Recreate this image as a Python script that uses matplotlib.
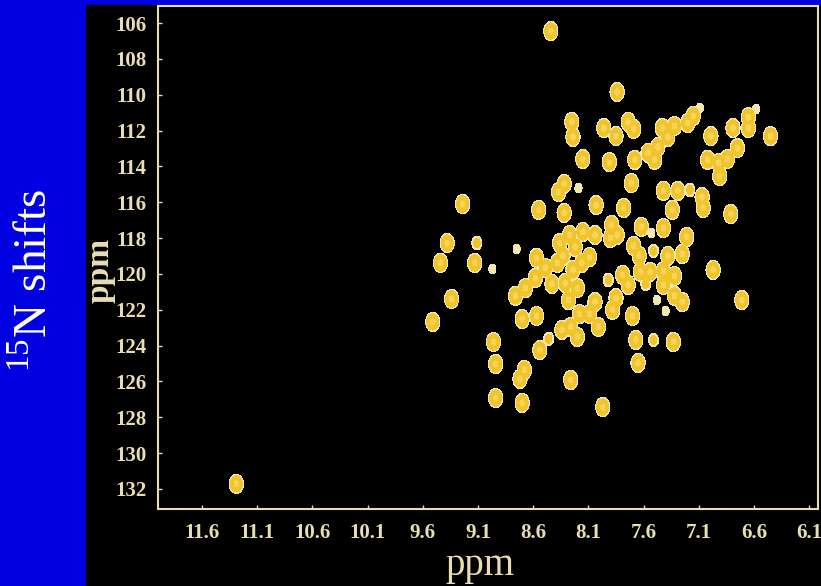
import numpy as np
import matplotlib.pyplot as plt
from matplotlib.patches import Rectangle

plt.rcParams['font.family'] = ['Liberation Serif', 'DejaVu Serif']
plt.rcParams['mathtext.fontset'] = 'custom'
plt.rcParams['mathtext.rm'] = 'Liberation Serif'

# HSQC cross peaks: 1H shift (ppm), 15N shift (ppm), relative height
h_shift = [8.44, 7.84, 8.25, 8.24, 7.96, 7.85, 7.74, 7.69, 7.43, 7.38,
           7.32, 7.20, 7.15, 7.09, 6.99, 6.79, 6.75, 6.65, 6.65, 6.58,
           6.45, 8.15, 7.91, 7.68, 7.56, 7.47, 7.50, 7.02, 6.92, 6.84,
           6.91, 8.32, 8.37, 8.19, 7.71, 7.42, 7.29, 7.18, 7.07, 7.06,
           9.24, 8.55, 8.32, 8.03, 7.78, 7.34, 6.81, 7.89, 7.84, 7.90,
           7.62, 7.42, 7.53, 7.21, 9.38, 9.11, 9.44, 9.13, 8.97, 8.75,
           8.57, 8.49, 8.58, 8.67, 8.76, 8.36, 8.27, 8.15, 8.04, 8.22,
           8.38, 8.33, 8.43, 8.31, 8.24, 8.16, 8.09, 8.20, 8.28, 8.04,
           8.18, 8.09, 7.85, 7.88, 8.01, 7.92, 7.69, 7.64, 7.79, 7.74,
           7.63, 7.54, 7.42, 7.58, 7.42, 7.51, 7.38, 7.25, 7.32, 7.32,
           7.25, 7.48, 7.40, 7.70, 6.97, 6.71, 9.34, 9.51, 8.70, 8.57,
           8.34, 8.26, 8.20, 8.46, 8.96, 8.54, 7.67, 7.51, 7.33, 8.94,
           8.68, 8.72, 7.65, 8.26, 8.94, 8.70, 7.97, 11.29]
n_shift = [106.45, 109.85, 111.52, 112.36, 111.86, 112.31, 111.52, 111.91, 111.86, 112.36,
           111.75, 111.58, 111.19, 110.74, 112.31, 111.86, 112.98, 111.25, 111.86, 110.80,
           112.31, 113.59, 113.76, 113.64, 113.25, 112.92, 113.64, 113.64, 113.81, 113.59,
           114.54, 114.98, 115.43, 115.21, 114.93, 115.37, 115.37, 115.32, 115.71, 116.32,
           116.10, 116.43, 116.60, 116.16, 116.32, 116.43, 116.66, 117.27, 117.83, 118.00,
           117.38, 117.44, 117.72, 117.94, 118.28, 118.28, 119.39, 119.39, 119.73, 118.61,
           119.11, 119.67, 120.23, 120.79, 121.23, 118.28, 117.83, 117.66, 117.83, 118.50,
           119.39, 119.00, 120.56, 120.51, 119.78, 119.39, 119.06, 120.79, 121.46, 121.57,
           122.24, 122.24, 121.35, 122.01, 122.96, 120.34, 118.44, 119.00, 120.06, 120.62,
           119.89, 119.89, 119.84, 120.56, 120.62, 118.72, 119.00, 118.89, 120.12, 121.23,
           121.57, 121.46, 122.07, 122.35, 119.78, 121.46, 121.40, 122.68, 122.52, 122.35,
           123.13, 122.96, 123.52, 123.63, 123.80, 124.25, 123.69, 123.69, 123.80, 125.03,
           125.36, 125.86, 124.97, 125.92, 126.93, 127.20, 127.43, 131.72]
height = [1.0] * len(h_shift)
for i in [13, 19, 33, 52, 58, 59, 101, 102]:
    height[i] = 0.3
for i in [37, 55, 85, 93, 95, 113, 117]:
    height[i] = 0.45

x_ticks = [11.6, 11.1, 10.6, 10.1, 9.6, 9.1, 8.6, 8.1, 7.6, 7.1, 6.6, 6.1]
y_ticks = list(range(106, 133, 2))

cream = '#e9ddb2'

# build the 2D spectrum from gaussian lines; overlapping peaks keep the
# larger value so neighbouring blobs stay separate
gx = np.linspace(6.0, 12.0, 1400)
gy = np.linspace(105.0, 133.2, 900)
sx, sy = 0.036, 0.30
Z = np.zeros((gy.size, gx.size))
for h, n, a in zip(h_shift, n_shift, height):
    px = np.exp(-(gx - h) ** 2 / (2 * sx ** 2))
    py = np.exp(-(gy - n) ** 2 / (2 * sy ** 2))
    np.maximum(Z, a * np.outer(py, px), out=Z)

fig = plt.figure(figsize=(8.21, 5.86), dpi=100, facecolor='#0000e0')
fig.add_artist(Rectangle((86 / 821, 0), 1, 581 / 586, transform=fig.transFigure,
                         facecolor='black', edgecolor='none', zorder=0))

ax = fig.add_axes([0.1924, 0.1314, 0.8039, 0.8584])
ax.set_facecolor('black')
ax.contourf(gx, gy, Z, levels=[0.2, 0.32, 0.85, 100],
            colors=['#f2e7ae', '#f0c42a', '#f6d45a'])

ax.set_xlim(12.0, 6.02)
ax.set_ylim(133.12, 105.05)
ax.set_xticks(x_ticks)
ax.set_xticklabels([f'{t:.1f}' for t in x_ticks])
ax.set_yticks(y_ticks)
ax.set_yticklabels([str(t) for t in y_ticks])
ax.tick_params(direction='in', length=3, width=1, color=cream, labelcolor=cream,
               labelsize=15)
ax.tick_params(axis='x', pad=10)
ax.tick_params(axis='y', pad=8)
for lbl in ax.get_xticklabels() + ax.get_yticklabels():
    lbl.set_fontweight('bold')
for s in ax.spines.values():
    s.set_color(cream)
    s.set_linewidth(1.5)

fig.text(100 / 821, 1 - 270 / 586, 'ppm', rotation=90, fontsize=24, fontweight='bold',
         color=cream, ha='center', va='center')
fig.text(480 / 821, 1 - 566 / 586, 'ppm', fontsize=28, color=cream,
         ha='center', va='center')
fig.text(35 / 821, 1 - 280 / 586, r'$^{15}$N shifts', rotation=90, fontsize=34,
         color='white', ha='center', va='center')

fig.savefig('out.png', dpi=100, facecolor=fig.get_facecolor())
